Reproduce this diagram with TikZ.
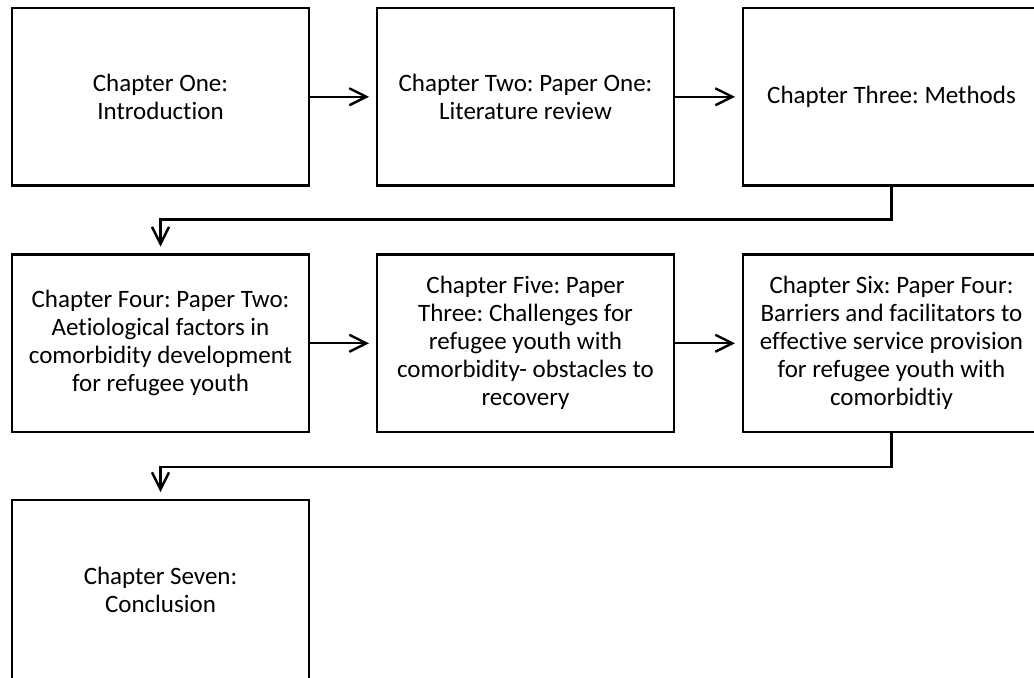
\documentclass[tikz,border=0pt]{standalone}
\usepackage{fontspec}
\setmainfont[Ligatures=CommonOff]{Carlito}
\usetikzlibrary{positioning,arrows.meta}

\begin{document}
\frenchspacing
\begin{tikzpicture}[chapbox/.style={draw, line width=1.2pt, outer sep=0pt, minimum width=148.5pt, minimum height=88.75pt, align=center, font=\fontsize{12.5}{14}\selectfont},
  arr/.style={-{Straight Barb[length=8.5pt,width=8.5pt]}, line width=1.2pt, shorten >=4pt}]
  \clip (0,0) rectangle (517pt,-338.5pt);
  \node (c1) [chapbox, anchor=north west] at (6pt,-4pt) {Chapter One:\\Introduction};
  \node (c2) [chapbox, right=34pt of c1] {Chapter Two: Paper One:\\Literature review};
  \node (c3) [chapbox, right=34.5pt of c2] {Chapter Three: Methods};
  \node (c4) [chapbox, below=34.5pt of c1] {Chapter Four: Paper Two:\\Aetiological factors in\\comorbidity development\\for refugee youth};
  \node (c5) [chapbox, right=34pt of c4] {Chapter Five: Paper\\Three: Challenges for\\refugee youth with\\comorbidity- obstacles to\\recovery};
  \node (c6) [chapbox, right=34.5pt of c5] {Chapter Six: Paper Four:\\Barriers and facilitators to\\effective service provision\\for refugee youth with\\comorbidtiy};
  \node (c7) [chapbox, below=34pt of c4, minimum height=90pt] {Chapter Seven:\\Conclusion};
  \draw [arr] (c1) -- (c2);
  \draw [arr] (c2) -- (c3);
  \draw [arr] (c3.south) -- ++(0,-17pt) -| (c4.north);
  \draw [arr] (c4) -- (c5);
  \draw [arr] (c5) -- (c6);
  \draw [arr] (c6.south) -- ++(0,-17.5pt) -| (c7.north);
\end{tikzpicture}
\end{document}
